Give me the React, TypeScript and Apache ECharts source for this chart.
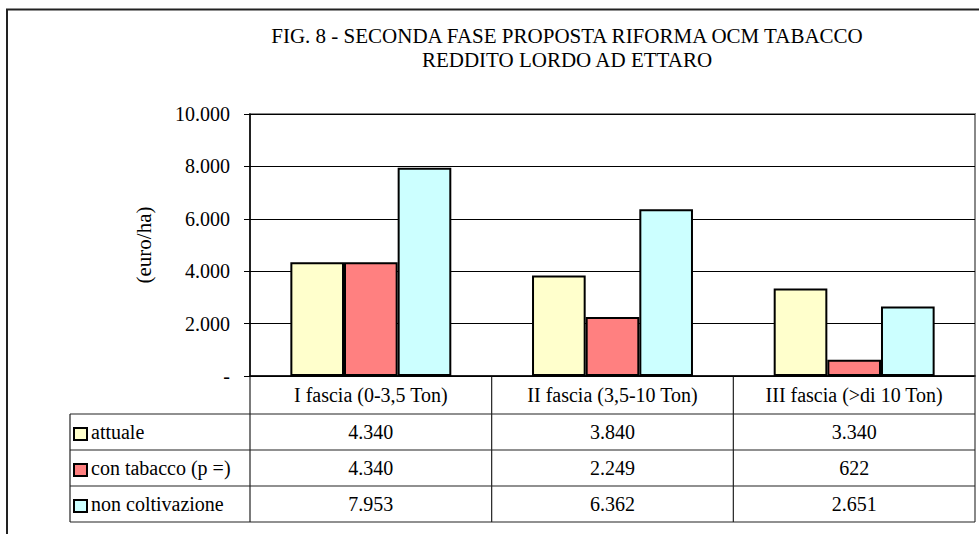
import React, { useEffect, useRef } from "react";
import * as echarts from "echarts";

const categories = ["I fascia (0-3,5 Ton)", "II fascia (3,5-10 Ton)", "III fascia (>di 10 Ton)"];
const seriesNames = ["attuale", "con tabacco (p =)", "non coltivazione"];
const attuale = [4340, 3840, 3340];
const conTabacco = [4340, 2249, 622];
const nonColtivazione = [7953, 6362, 2651];
const seriesColors = ["#FFFFCC", "#FF8080", "#CCFFFF"];
const titleLines = ["FIG. 8 - SECONDA FASE PROPOSTA RIFORMA OCM TABACCO", "REDDITO LORDO AD ETTARO"];
const yAxisName = "(euro/ha)";

const FONT = "Liberation Serif, DejaVu Serif, serif";

function fmt(v: number): string {
  if (v === 0) return "-";
  return String(Math.round(v)).replace(/\B(?=(\d{3})+(?!\d))/g, ".");
}

export default function App() {
  const ref = useRef<HTMLDivElement>(null);
  useEffect(() => {
    document.body.style.margin = "0";
    if (!ref.current) return;
    const chart = echarts.init(ref.current, null, { renderer: "svg" });
    const allSeries = [attuale, conTabacco, nonColtivazione];
    const gridLeft = 250;
    const gridRight = 4;
    const gridTop = 114;
    const gridBottom = 158;
    chart.setOption({
      animation: false,
      textStyle: { fontFamily: FONT },
      grid: {
        left: gridLeft,
        right: gridRight,
        top: gridTop,
        bottom: gridBottom,
        show: true,
        borderColor: "#888",
        borderWidth: 2,
        backgroundColor: "transparent",
      },
      xAxis: {
        type: "category",
        data: categories,
        axisLine: { show: true, lineStyle: { color: "#000", width: 1.5 } },
        axisTick: { show: false },
        axisLabel: { show: false },
      },
      yAxis: {
        type: "value",
        min: 0,
        max: 10000,
        interval: 2000,
        name: yAxisName,
        nameLocation: "middle",
        nameRotate: 90,
        nameGap: 96,
        nameTextStyle: { fontFamily: FONT, fontSize: 21, color: "#000" },
        axisLine: { show: true, lineStyle: { color: "#000", width: 1.5 } },
        axisTick: { show: true, inside: false, length: 6, lineStyle: { color: "#000" } },
        axisLabel: {
          formatter: (v: number) => fmt(v),
          fontFamily: FONT,
          fontSize: 20,
          color: "#000",
          margin: 20,
        },
        splitLine: { show: true, lineStyle: { color: "#000", width: 1 } },
      },
      series: allSeries.map((d, i) => ({
        type: "bar",
        name: seriesNames[i],
        data: d,
        barGap: "0%",
        barCategoryGap: "33.4%",
        itemStyle: { color: seriesColors[i], borderColor: "#000", borderWidth: 2 },
      })),
    });

    const centers = categories.map((_, i) => chart.convertToPixel({ xAxisIndex: 0 }, i) as number);
    const band = centers.length > 1 ? centers[1] - centers[0] : 240;
    const yAxisBase = chart.convertToPixel({ yAxisIndex: 0 }, 0) as number;
    const headerH = 38;
    const rowH = 36;
    const tableLeft = 70;
    const plotLeft = centers[0] - band / 2;
    const plotRight = centers[centers.length - 1] + band / 2;
    const rowsTop = yAxisBase + headerH;
    const tableBottom = rowsTop + rowH * seriesNames.length;
    const lineStyle = { stroke: "#222", lineWidth: 1.2 };
    const g: any[] = [];
    g.push({ type: "rect", shape: { x: 7, y: 9.5, width: 1100, height: 700 }, style: { fill: "none", stroke: "#222", lineWidth: 2 }, silent: true });
    titleLines.forEach((t, i) => {
      g.push({ type: "text", x: 567, y: 36 + i * 24, style: { text: t, font: `21px ${FONT}`, fill: "#000", textAlign: "center", textVerticalAlign: "middle" } });
    });
    const bounds = [plotLeft, ...centers.map((c) => c + band / 2)];
    bounds.forEach((x, i) => {
      g.push({ type: "line", shape: { x1: x, y1: yAxisBase, x2: x, y2: tableBottom }, style: i === bounds.length - 1 ? { stroke: "#888", lineWidth: 2 } : lineStyle });
    });
    g.push({ type: "line", shape: { x1: tableLeft, y1: rowsTop, x2: tableLeft, y2: tableBottom }, style: lineStyle });
    for (let r = 0; r <= seriesNames.length; r++) {
      const y = rowsTop + r * rowH;
      g.push({ type: "line", shape: { x1: tableLeft, y1: y, x2: plotRight, y2: y }, style: lineStyle });
    }
    categories.forEach((c, i) => {
      g.push({ type: "text", x: centers[i], y: yAxisBase + headerH / 2, style: { text: c, font: `20px ${FONT}`, fill: "#000", textAlign: "center", textVerticalAlign: "middle" } });
    });
    seriesNames.forEach((name, r) => {
      const cy = rowsTop + r * rowH + rowH / 2;
      g.push({ type: "rect", shape: { x: 74, y: cy - 4, width: 13, height: 12 }, style: { fill: seriesColors[r], stroke: "#000", lineWidth: 2 } });
      g.push({ type: "text", x: 91, y: cy, style: { text: name, font: `20px ${FONT}`, fill: "#000", textAlign: "left", textVerticalAlign: "middle" } });
      allSeries[r].forEach((v, i) => {
        g.push({ type: "text", x: centers[i], y: cy, style: { text: fmt(v), font: `20px ${FONT}`, fill: "#000", textAlign: "center", textVerticalAlign: "middle" } });
      });
    });
    chart.setOption({ graphic: g });

    return () => chart.dispose();
  }, []);
  return <div ref={ref} style={{ width: 979, height: 534, background: "#fff" }} />;
}
